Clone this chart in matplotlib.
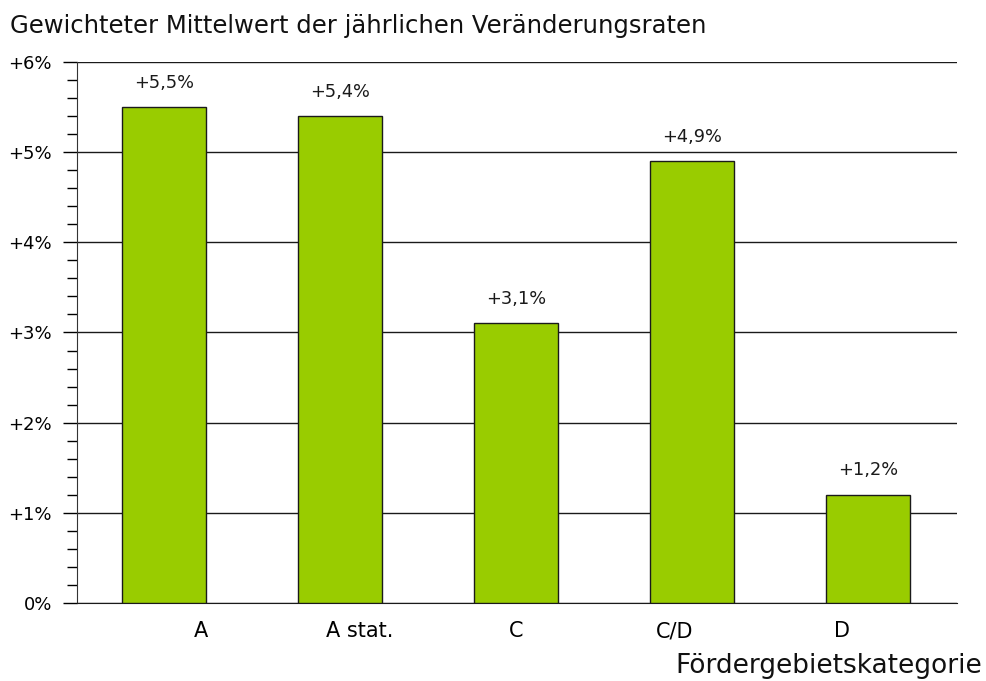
import matplotlib
matplotlib.use("Agg")
import matplotlib.pyplot as plt
from matplotlib.ticker import MultipleLocator, FuncFormatter
import numpy as np

plt.rcParams.update({
    "font.family": "DejaVu Sans",
    "font.size": 12,
})

categories = ["A", "A stat.", "C", "C/D", "D"]
values = [5.5, 5.4, 3.1, 4.9, 1.2]
value_labels = ["+5,5%", "+5,4%", "+3,1%", "+4,9%", "+1,2%"]
# tick labels are not centred under the bars in the original
label_shift = [0.21, 0.11, 0.0, -0.1, -0.15]

fig = plt.figure(figsize=(9.87, 6.81), dpi=100)
ax = fig.add_axes([0.078, 0.1145, 0.8916, 0.7945])

x = np.arange(len(categories))
bars = ax.bar(x, values, width=0.477, color="#99CC00", edgecolor="#1a1a1a",
              linewidth=1.0, zorder=3)

for b, lab in zip(bars, value_labels):
    ax.text(b.get_x() + b.get_width() / 2, b.get_height() + 0.17, lab,
            ha="center", va="bottom", fontsize=12.8, color="#1a1a1a")

ax.set_xlim(-0.494, 4.506)
ax.set_ylim(0, 6)
ax.yaxis.set_major_locator(MultipleLocator(1))
ax.yaxis.set_minor_locator(MultipleLocator(0.2))
ax.yaxis.set_major_formatter(FuncFormatter(lambda v, p: "0%" if v == 0 else f"+{v:.0f}%"))
ax.grid(axis="y", which="major", color="#1a1a1a", linewidth=1.0, zorder=0)
ax.set_axisbelow(True)

ax.set_xticks(x + np.array(label_shift))
ax.set_xticklabels(categories, fontsize=15)
ax.tick_params(axis="x", length=0, pad=13)
ax.tick_params(axis="y", which="major", length=10, width=1, labelsize=13, pad=8)
ax.tick_params(axis="y", which="minor", length=7, width=1)

for s in ["top", "right"]:
    ax.spines[s].set_visible(False)
ax.spines["left"].set_color("#333333")
ax.spines["bottom"].set_color("#1a1a1a")

fig.text(0.010, 0.962, "Gewichteter Mittelwert der jährlichen Veränderungsraten",
         fontsize=17.5, color="#111111", ha="left", va="center")
fig.text(0.995, 0.022, "Fördergebietskategorie", fontsize=19,
         color="#111111", ha="right", va="center")

fig.savefig("out.png", dpi=100)
